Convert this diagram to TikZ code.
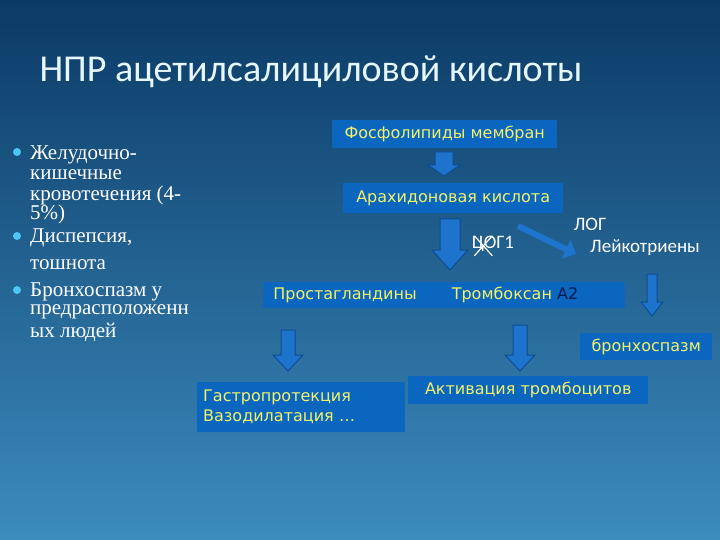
\documentclass[tikz,border=0pt]{standalone}
\usepackage{fontspec}
\setmainfont{Carlito}
\newfontfamily\boxfont{DejaVu Sans}
\newfontfamily\listfont{Liberation Serif}
\usetikzlibrary{arrows.meta}
\definecolor{bgtop}{HTML}{0B3A66}
\definecolor{bgbot}{HTML}{3C8CBE}
\definecolor{boxblue}{HTML}{0A66BE}
\definecolor{arrblue}{HTML}{1E74CC}
\definecolor{arredge}{HTML}{0E4C92}
\definecolor{txtyel}{HTML}{F2F26A}
\definecolor{navy}{HTML}{0A1E50}
\tikzset{
  blue box/.style={fill=boxblue,text=txtyel,font=\boxfont\fontsize{16}{20}\selectfont,
    inner sep=0pt,anchor=north west},
  block arrow/.style={fill=arrblue,draw=arredge,line width=1pt},
  plain text/.style={text=white,font=\fontsize{19}{22}\selectfont},
  item/.style={text=white,font=\listfont\fontsize{21}{21}\selectfont,anchor=west,inner sep=0pt},
}
% x, top, bottom, half shaft, half head, head length
\newcommand\downblock[6]{%
  \filldraw[block arrow] (#1-#4,#2) -- (#1+#4,#2) -- (#1+#4,#3-#6) -- (#1+#5,#3-#6)
    -- (#1,#3) -- (#1-#5,#3-#6) -- (#1-#4,#3-#6) -- cycle;}
\begin{document}
\begin{tikzpicture}[x=1pt,y=-1pt]
    \shade[top color=bgtop,bottom color=bgbot] (0,0) rectangle (720,540);
    \useasboundingbox (0,0) rectangle (720,540);

    \node[text=white!90!cyan,font=\fontsize{38}{38}\selectfont,anchor=west] (title) at (36,72) {НПР ацетилсалициловой кислоты};

    % list of side effects
    \foreach \y/\t in {155/Желудочно-,175/кишечные,195/кровотечения (4-,214/5\%),
        238/{Диспепсия,},265/тошнота,292/Бронхоспазм у,312/предрасположенн,332/ых людей}
        \node[item] at (30,\y) {\t};
    \foreach \y in {152,236,290}
        \fill[cyan!70!white] (17,\y) circle (4);

    % boxes
    \node[blue box,minimum width=225,minimum height=28] (phos) at (332,120) {Фосфолипиды мембран};
    \node[blue box,minimum width=220,minimum height=30] (arach) at (343,183) {Арахидоновая кислота};
    \node[blue box,minimum width=362,minimum height=26] (row) at (263,282) {};
    \node[text=txtyel,font=\boxfont\fontsize{16}{20}\selectfont] (prost) at (345,295) {Простагландины};
    \node[text=txtyel,font=\boxfont\fontsize{16}{20}\selectfont] (tromb) at (515,295) {Тромбоксан \textcolor{navy}{А2}};
    \node[blue box,minimum width=132,minimum height=27] (bronch) at (580,333) {бронхоспазм};
    \node[blue box,minimum width=208,minimum height=50,align=left,text width=208] (gastro) at (197,382)
        {\hspace*{6pt}Гастропротекция\\\hspace*{6pt}Вазодилатация …};
    \node[blue box,minimum width=240,minimum height=28] (activ) at (408,376) {Активация тромбоцитов};

    % labels
    \node[plain text] (cog) at (493,244) {ЦОГ1};
    \draw[white,line width=1.2pt] (cog.north west) ++(6,3) -- ++(18,20);
    \draw[white,line width=1.2pt] (cog.north west) ++(24,3) -- ++(-18,20);
    \node[plain text] (log) at (590,224) {ЛОГ};
    \node[plain text] (leuk) at (645,248) {Лейкотриены};

    % block arrows
    \downblock{444}{152}{176}{9}{16}{11}
    \downblock{450}{219}{270}{10}{18}{20}
    \downblock{652}{274}{316}{5}{11}{14}
    \downblock{288}{330}{371}{7}{15}{16}
    \downblock{520}{325}{371}{7}{15}{16}
    \coordinate (lstart) at (518,226);
    \coordinate (lend) at (576,254);
    \draw[arrblue,line width=6pt,-{Triangle[length=11pt,width=20pt]}] (lstart) -- (lend);
\end{tikzpicture}
\end{document}
